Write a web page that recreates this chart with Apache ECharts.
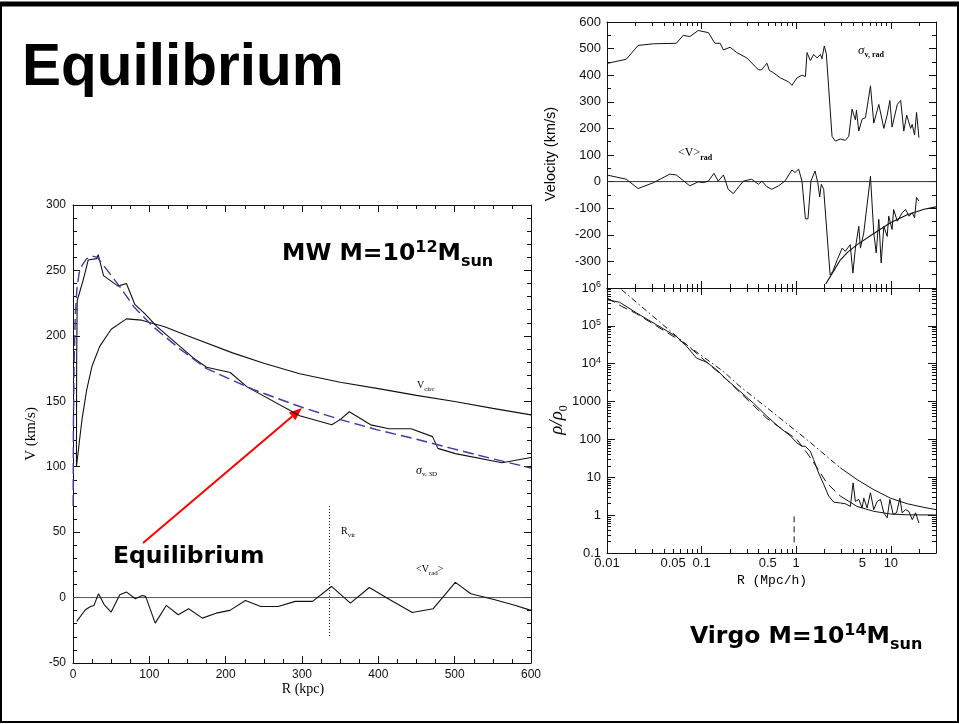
<!DOCTYPE html>
<html>
<head>
<meta charset="utf-8">
<title>Equilibrium</title>
<script src="https://cdn.jsdelivr.net/npm/echarts@6.0.0/dist/echarts.min.js"></script>
<style>
html,body{margin:0;padding:0;background:#ffffff;}
#wrap{position:relative;width:959px;height:724px;}
#axes,#marks{position:absolute;left:0;top:0;width:959px;height:724px;}
#marks{pointer-events:none;}
</style>
</head>
<body>
<div id="wrap"><div id="axes"></div><div id="marks"></div></div>
<script>
// ================= DATA =================
// Left panel (MW halo): R in kpc, V in km/s
const mwXRange = [0, 600], mwXStep = 100;
const mwYRange = [-50, 300], mwYStep = 50;
const vcircR = [4.5, 6.5, 8.5, 12, 18, 25, 35, 50, 70, 90, 120, 150, 209, 250, 297, 350, 400, 450, 500, 550, 600];
const vcircV = [100, 110, 120, 137, 159, 177, 192, 205, 213, 212, 207, 200, 187, 179, 171, 164.5, 159.7, 154.5, 149.8, 144.6, 139.6];
const sigma3dR = [4.5, 4.8, 5.5, 13.5, 20, 31, 33, 40, 59, 70, 81, 94, 110, 158, 175, 206, 228, 297, 339, 350, 362, 390, 414, 443, 471, 478, 501, 562, 600];
const sigma3dV = [100, 180, 227, 243, 258, 259, 262, 246, 238, 240, 224, 217, 207, 183, 176, 172, 161, 139, 132, 136, 142, 132, 129, 129, 123, 114, 110, 103, 107];
const fitR = [0.2, 0.5, 1.5, 3, 5, 8, 12, 18, 25, 32, 45, 62, 80, 105, 140, 175, 236, 297, 350, 400, 450, 496, 550, 600];
const fitV = [70, 130, 180, 215, 235, 248, 254, 259, 261, 260, 250, 237, 222, 207, 190, 175, 159, 146, 136, 128, 121, 114, 106, 99];
const vradR = [4.95, 16.2, 23, 27.5, 33.4, 41, 50, 61.3, 70.3, 81.6, 90.6, 95.1, 107.7, 122.2, 137.9, 151.5, 169.5, 187.5, 205.6, 225.9, 246.1, 268.7, 291.2, 313.8, 338.6, 363.4, 388.2, 415.2, 444.5, 471.6, 500.9, 521.2, 552.7, 579.8, 600];
const vradV = [-18.2, -9.3, -6.8, -6.0, 2.9, -5.5, -11.1, 2.1, 4.2, -0.9, 1.6, 0.9, -19.5, -6.0, -13.1, -8.6, -15.7, -11.9, -9.8, -2.2, -6.8, -6.8, -2.9, -2.9, 8.5, -4.2, 7.7, -1.7, -11.4, -8.6, 11.6, 2.9, -1.7, -6.0, -9.8];
const rvirKpc = 336, rvirSpan = [70, -30];

// Right panels (Virgo): R in Mpc/h
const vgXRange = [0.01, 30];
const vgXLabels = [0.01, 0.05, 0.1, 0.5, 1, 5, 10];
const vgXMajor = [0.01, 0.1, 1, 10];
const velRange = [-400, 600], velStep = 100;
const sigRadR = [0.0102,0.016,0.0213,0.031,0.054,0.064,0.075,0.092,0.118,0.138,0.157,0.170,0.200,0.235,0.300,0.400,0.430,0.490,0.520,0.570,0.680,0.830,0.900,1.02,1.15,1.25,1.30,1.41,1.53,1.66,1.80,1.87,1.98,2.08,2.39,2.59,2.92,3.30,3.59,3.89,4.22,4.33,4.58,4.97,5.39,6.09,6.60,7.46,8.43,9.14,9.76,10.3,11.7,12.7,13.7,14.7,16.2,16.8,17.8,18.7,19.8];
const sigRadV = [445,460,512,518,520,550,545,568,560,520,520,495,505,485,465,420,420,445,418,410,390,375,362,390,400,395,485,455,478,465,478,462,510,480,170,152,160,155,170,272,232,268,190,235,240,360,220,290,200,250,305,205,290,305,190,250,200,215,175,260,165];
const vMeanR = [0.0102,0.016,0.0213,0.031,0.046,0.054,0.075,0.092,0.104,0.118,0.135,0.150,0.170,0.191,0.216,0.235,0.276,0.338,0.399,0.433,0.489,0.55,0.65,0.76,0.90,0.97,1.06,1.15,1.25,1.33,1.43,1.58,1.69,1.77,1.84,1.95,2.28,2.43,2.71,3.06,3.30,3.72,3.97,4.22,4.58,4.77,5.17,6.09,6.60,7.0,7.46,7.9,8.43,9.14,9.5,10.3,10.7,11.7,13.2,14.3,15.6,16.8,17.8,18.7,19.8];
const vMeanV = [24,9,-26,-4,28,25,-16,-1,-4,2,31,2,25,-29,-45,-29,2,9,-10,2,-19,-29,-16,2,44,34,47,2,-140,-140,2,40,-4,-58,-10,-29,-351,-338,-294,-250,-262,-237,-344,-250,-168,-250,-193,20,-193,-268,-142,-306,-168,-206,-130,-180,-105,-149,-117,-105,-130,-117,-136,-60,-73];
const infallR = [2.05, 2.4, 2.92, 3.5, 4.4, 6.6, 9.9, 14.9, 22.4, 30];
const infallV = [-385, -345, -295, -265, -237, -195, -155, -125, -104, -95];

const rhoRange = [0.1, 1e6];
const rhoLabels = [0.1, 1, 10, 100, 1000, 1e4, 1e5, 1e6];
const rhoR = [0.01,0.0136,0.0205,0.0333,0.0543,0.0693,0.0885,0.113,0.144,0.184,0.255,0.353,0.489,0.677,0.863,1.016,1.148,1.245,1.407,1.526,1.725,1.95,2.203,2.489,2.924,3.303,3.733,3.988,4.22,4.58,4.968,5.177,5.616,6.085,6.6,7.161,7.77,8.425,9.14,9.757,10.58,11.48,12.45,13.18,14.3,15.52,16.83,18.25,19.81];
const rhoV = [4.9e5,4.2e5,2.2e5,1.07e5,5.2e4,2.9e4,1.4e4,1.1e4,6900,3800,1860,910,410,200,126,81,66,66,49,29.5,12.9,6.5,3.2,2.2,2.1,2.0,1.7,7.1,2.3,2.6,1.55,2.8,1.55,3.9,1.4,2.3,2.6,1.15,0.85,2.6,1.05,1.15,2.8,1.15,1.4,1.25,0.76,1.15,0.62];
const nfwR = [0.01, 0.0142, 0.0205, 0.0693, 0.184, 0.489, 1.016, 1.30, 1.66, 2.10, 2.92, 4.39, 6.6, 9.92, 14.9, 30];
const nfwV = [5.5e5, 3.3e5, 2.1e5, 3.2e4, 3800, 360, 100, 44, 18, 7.1, 3.2, 1.7, 1.26, 1.07, 1.02, 1.01];
const isoR = [0.0142, 0.069, 0.169, 0.255, 0.575, 1.30, 2.92, 4.39, 6.6, 9.92, 14.9, 22.4, 30];
const isoV = [9.1e5, 3.2e4, 6300, 2500, 500, 98, 17.8, 8.7, 4.7, 2.8, 2.0, 1.6, 1.4];
const rvirMpc = 0.95, rvirRhoSpan = [0.93, 0.15];

// ================= BUILD =================
function zip(a, b) { return a.map((v, i) => [v, b[i]]); }
function decadeMinors(lo, hi) {
  const out = [];
  for (let e = Math.floor(Math.log10(lo)); e <= Math.ceil(Math.log10(hi)); e++) {
    for (let k = 2; k <= 9; k++) {
      const v = +(k * Math.pow(10, e)).toPrecision(3);
      if (v > lo && v < hi) out.push(v);
    }
  }
  return out;
}
function decades(lo, hi) {
  const out = [];
  for (let e = Math.round(Math.log10(lo)); e <= Math.round(Math.log10(hi)); e++) out.push(+Math.pow(10, e).toPrecision(3));
  return out;
}
function fmtNum(v) { return String(+(+v).toPrecision(3)); }

const INK = '#111';
function ls() { return { color: INK, width: 1 }; }
const LF = '"Liberation Sans", Arial, sans-serif';
const SF = '"Liberation Serif", "DejaVu Serif", serif';

function linAxis(grid, pos, range, step, minorSplit, labels, fs, margin, fmt) {
  return {
    type: 'value', gridIndex: grid, position: pos, min: range[0], max: range[1], interval: step,
    splitLine: { show: false }, minorSplitLine: { show: false },
    axisLine: { show: true, onZero: false, lineStyle: ls() },
    axisTick: { show: true, inside: true, length: 7, lineStyle: ls() },
    minorTick: { show: true, splitNumber: minorSplit, length: 4, lineStyle: ls() },
    axisLabel: { show: labels, color: INK, fontFamily: LF, fontSize: fs, margin: margin,
      showMinLabel: true, showMaxLabel: true, hideOverlap: false,
      formatter: fmt || (v => String(v)) }
  };
}
function logAxis(grid, pos, range, ticks, len, showLine, labels) {
  const ax = {
    type: 'log', logBase: 10, gridIndex: grid, position: pos, min: range[0], max: range[1],
    splitLine: { show: false }, minorSplitLine: { show: false },
    axisLine: { show: showLine, onZero: false, lineStyle: ls() },
    axisTick: { show: true, inside: true, length: len, customValues: ticks, lineStyle: ls() },
    minorTick: { show: false },
    axisLabel: { show: false }
  };
  if (labels) ax.axisLabel = Object.assign({ show: true, color: INK, fontFamily: LF, hideOverlap: false,
    showMinLabel: true, showMaxLabel: true }, labels);
  return ax;
}
function hidden(ax) {
  ax.axisLine = { show: false, onZero: false };
  ax.axisTick = { show: false };
  ax.minorTick = { show: false };
  ax.axisLabel = { show: false };
  return ax;
}

function buildGrids() {
  return [
    { left: 73, top: 205, width: 458, height: 458, containLabel: false, outerBoundsMode: 'none' },
    { left: 607, top: 22, width: 329, height: 266, containLabel: false, outerBoundsMode: 'none' },
    { left: 607, top: 288, width: 329, height: 265, containLabel: false, outerBoundsMode: 'none' }
  ];
}
function buildX() {
  const xMinor = decadeMinors(vgXRange[0], vgXRange[1]);
  return [
    linAxis(0, 'bottom', mwXRange, mwXStep, 4, true, 12, 6),
    linAxis(0, 'top', mwXRange, mwXStep, 4, false, 12, 6),
    logAxis(1, 'bottom', vgXRange, vgXMajor, 7, true, null),
    logAxis(1, 'bottom', vgXRange, xMinor, 4, false, null),
    logAxis(1, 'top', vgXRange, vgXMajor, 7, true, null),
    logAxis(1, 'top', vgXRange, xMinor, 4, false, null),
    logAxis(2, 'bottom', vgXRange, vgXMajor, 7, true,
      { customValues: vgXLabels, fontSize: 13, margin: 4, formatter: v => fmtNum(v) }),
    logAxis(2, 'bottom', vgXRange, xMinor, 4, false, null),
    logAxis(2, 'top', vgXRange, vgXMajor, 7, true, null),
    logAxis(2, 'top', vgXRange, xMinor, 4, false, null)
  ];
}
function buildY() {
  const rhoMajor = decades(rhoRange[0], rhoRange[1]);
  const rhoMinor = decadeMinors(rhoRange[0], rhoRange[1]);
  return [
    linAxis(0, 'left', mwYRange, mwYStep, 5, true, 12, 7),
    linAxis(0, 'right', mwYRange, mwYStep, 5, false, 12, 7),
    linAxis(1, 'left', velRange, velStep, 2, true, 13, 6, v => (v === velRange[0] ? '' : String(v))),
    linAxis(1, 'right', velRange, velStep, 2, false, 13, 6),
    logAxis(2, 'left', rhoRange, rhoMajor, 8, true,
      { customValues: rhoLabels, fontSize: 13, margin: 6,
        formatter: v => { const e = Math.round(Math.log10(v)); return e >= 4 ? '10{s|' + e + '}' : fmtNum(v); },
        rich: { s: { fontSize: 9, fontFamily: LF, color: INK, verticalAlign: 'top', padding: [0, 0, 7, 0] } } }),
    logAxis(2, 'left', rhoRange, rhoMinor, 4, false, null),
    logAxis(2, 'right', rhoRange, rhoMajor, 8, true, null),
    logAxis(2, 'right', rhoRange, rhoMinor, 4, false, null)
  ];
}

function buildSeries() {
  function ser(xi, yi, data, color, width, type, z) {
    return { type: 'line', xAxisIndex: xi, yAxisIndex: yi, data: data, symbol: 'none', showSymbol: false,
      silent: true, animation: false, clip: true, z: z || 2,
      lineStyle: { color: color, width: width, type: type || 'solid' } };
  }
  return [
    ser(0, 0, [[mwXRange[0], 0], [mwXRange[1], 0]], '#555', 1),
    ser(0, 0, [[rvirKpc, rvirSpan[0]], [rvirKpc, rvirSpan[1]]], INK, 1, [1, 2]),
    ser(0, 0, zip(vcircR, vcircV), INK, 1.1),
    ser(0, 0, zip(sigma3dR, sigma3dV), INK, 1.1),
    ser(0, 0, zip(vradR, vradV), INK, 1.1),
    ser(0, 0, zip(fitR, fitV), '#3b3ba6', 1.4, [11, 5], 3),
    ser(2, 2, [[vgXRange[0], 0], [vgXRange[1], 0]], '#333', 1),
    ser(2, 2, zip(sigRadR, sigRadV), INK, 1),
    ser(2, 2, zip(vMeanR, vMeanV), INK, 1),
    ser(2, 2, zip(infallR, infallV), INK, 1.1),
    ser(6, 4, zip(rhoR, rhoV), INK, 1),
    ser(6, 4, zip(nfwR, nfwV).filter(p => p[0] <= 2.92), INK, 1, [9, 5]),
    ser(6, 4, zip(nfwR, nfwV).filter(p => p[0] >= 2.92), INK, 1),
    ser(6, 4, zip(isoR, isoV).filter(p => p[0] <= 2.92), INK, 1, [6, 3, 1.5, 3]),
    ser(6, 4, zip(isoR, isoV).filter(p => p[0] >= 2.92), INK, 1),
    ser(6, 4, [[rvirMpc, rvirRhoSpan[0]], [rvirMpc, rvirRhoSpan[1]]], INK, 1, [6, 4])
  ];
}

// ---------- text / annotation helpers ----------
const mctx = document.createElement('canvas').getContext('2d');
function fontStr(p) { return (p.it ? 'italic ' : '') + (p.b ? 'bold ' : '') + p.s + 'px ' + p.f; }
function seq(x, base, parts, color) {
  const out = []; let cx = x;
  parts.forEach(p => {
    const f = fontStr(p); mctx.font = f;
    const w = mctx.measureText(p.t).width;
    out.push({ type: 'text', x: cx, y: base + (p.dy || 0) - 0.345 * p.s, silent: true,
      style: { text: p.t, font: f, fill: color || '#000', align: 'left', verticalAlign: 'middle' } });
    cx += w + (p.gap || 0);
  });
  return out;
}
function seqWidth(parts) {
  let w = 0; parts.forEach(p => { mctx.font = fontStr(p); w += mctx.measureText(p.t).width + (p.gap || 0); }); return w;
}
function vertical(cx, cy, parts, size) {
  const w = seqWidth(parts);
  return { type: 'group', x: cx, y: cy, rotation: Math.PI / 2, children: seq(-w / 2, 0.345 * size, parts) };
}
function centered(cx, base, parts) { return seq(cx - seqWidth(parts) / 2, base, parts); }
function segLine(x1, y1, x2, y2, w, color) {
  return { type: 'line', shape: { x1: x1, y1: y1, x2: x2, y2: y2 }, style: { stroke: color || '#000', lineWidth: w }, silent: true };
}

const BV = '"DejaVu Sans", Verdana, sans-serif';
function buildGraphic() {
  let g = [];
  g.push(segLine(0, 4, 959, 4, 5));
  g.push(segLine(1, 2, 1, 723, 2));
  g.push(segLine(958, 2, 958, 723, 2));
  g.push(segLine(0, 722, 959, 722, 2));
  g = g.concat(seq(22, 89, [{ t: 'Equilibrium', s: 58.5, b: true, f: LF }]));
  g = g.concat(seq(282, 262, [
    { t: 'MW M=10', s: 23.5, b: true, f: BV }, { t: '12', s: 16, b: true, f: BV, dy: -9 },
    { t: 'M', s: 23.5, b: true, f: BV }, { t: 'sun', s: 16, b: true, f: BV, dy: 5 }]));
  g = g.concat(seq(690, 645, [
    { t: 'Virgo M=10', s: 23.5, b: true, f: BV }, { t: '14', s: 16, b: true, f: BV, dy: -9 },
    { t: 'M', s: 23.5, b: true, f: BV }, { t: 'sun', s: 16, b: true, f: BV, dy: 5 }]));
  g = g.concat(seq(113, 565, [{ t: 'Equilibrium', s: 23.5, b: true, f: BV }]));
  const x1 = 143, y1 = 543, tx = 302, ty = 408;
  const dx = tx - x1, dy = ty - y1, L = Math.hypot(dx, dy), ux = dx / L, uy = dy / L;
  const bx = tx - 13 * ux, by = ty - 13 * uy, nx = -uy, ny = ux;
  g.push(segLine(x1, y1, bx, by, 2, '#ff0000'));
  g.push({ type: 'polygon', shape: { points: [[tx, ty], [bx + 5 * nx, by + 5 * ny], [bx - 5 * nx, by - 5 * ny]] }, style: { fill: '#ff0000' }, silent: true });
  g.push(vertical(31, 434, [{ t: 'V (km/s)', s: 15, f: SF }], 15));
  g = g.concat(centered(303, 694, [{ t: 'R (kpc)', s: 14, f: SF }]));
  g = g.concat(seq(417, 389, [{ t: 'V', s: 10, f: SF }, { t: 'circ', s: 7, f: SF, dy: 3 }]));
  g = g.concat(seq(416, 475, [{ t: 'σ', s: 12, it: true, f: SF }, { t: 'v, 3D', s: 7, f: SF, dy: 2 }]));
  g = g.concat(seq(341, 535, [{ t: 'R', s: 10, f: SF }, { t: 'vir', s: 7, f: SF, dy: 3 }]));
  g = g.concat(seq(416, 573, [{ t: '<V', s: 10, f: SF }, { t: 'rad', s: 7, f: SF, dy: 3 }, { t: '>', s: 10, f: SF }]));
  g.push(vertical(551, 154, [{ t: 'Velocity (km/s)', s: 14.5, f: LF }], 14.5));
  g.push(vertical(557, 420, [{ t: 'ρ/ρ', s: 19, it: true, f: SF }, { t: '0', s: 12, f: SF, dy: 4 }], 19));
  g = g.concat(centered(772, 585, [{ t: 'R (Mpc/h)', s: 13, f: '"Liberation Mono", monospace' }]));
  g = g.concat(seq(858, 55, [{ t: 'σ', s: 13, it: true, f: SF }, { t: 'v, rad', s: 8, b: true, f: SF, dy: 3 }]));
  g = g.concat(seq(678, 157, [{ t: '<V>', s: 12, f: SF }, { t: 'rad', s: 8, b: true, f: SF, dy: 4 }]));
  return g;
}

// ---------- render: frame/axes layer + data/annotation layer sharing identical scales ----------
const axesChart = echarts.init(document.getElementById('axes'), null, { renderer: 'canvas', width: 959, height: 724 });
axesChart.setOption({ animation: false, backgroundColor: '#ffffff', grid: buildGrids(), xAxis: buildX(), yAxis: buildY(), series: [] });

const marksChart = echarts.init(document.getElementById('marks'), null, { renderer: 'canvas', width: 959, height: 724 });
marksChart.setOption({
  animation: false, backgroundColor: 'transparent',
  grid: buildGrids(),
  xAxis: buildX().map(hidden),
  yAxis: buildY().map(hidden),
  series: buildSeries(),
  graphic: { elements: buildGraphic() }
});
</script>
</body>
</html>
